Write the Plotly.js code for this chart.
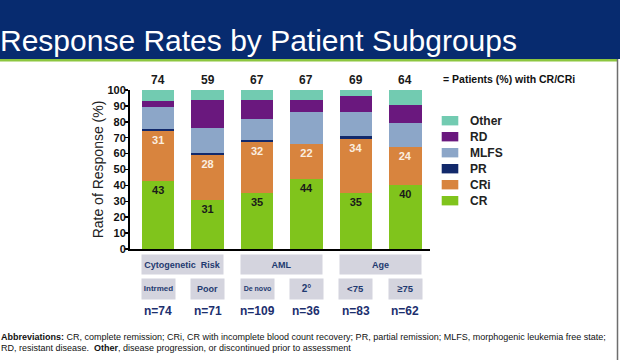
<!DOCTYPE html>
<html>
<head>
<meta charset="utf-8">
<script src="https://cdn.plot.ly/plotly-3.0.1.min.js"></script>
<style>html,body{margin:0;padding:0;background:#fff;}#chart{width:620px;height:360px;}</style>
</head>
<body>
<div id="chart"></div>
<script>
// ---- data ----
const categories = ['Intrmed', 'Poor', 'De novo', '2°', '<75', '≥75'];
const groupLabels = ['Cytogenetic  Risk', 'AML', 'Age'];
const nLabels = ['n=74', 'n=71', 'n=109', 'n=36', 'n=83', 'n=62'];
const crCriTotal = [74, 59, 67, 67, 69, 64];
const cr    = [43, 31, 35, 44, 35, 40];
const cri   = [31, 28, 32, 22, 34, 24];
const pr    = [1.5, 1.5, 1.5, 0, 2, 0];
const mlfs  = [13.5, 15.5, 13, 20, 15, 15];
const rd    = [4, 18, 12, 8, 10.5, 11.5];
const other = [7, 6, 6.5, 6, 3.5, 9.5];
const seriesNames = ['CR', 'CRi', 'PR', 'MLFS', 'RD', 'Other'];
const titleText = 'Response Rates by Patient Subgroups';
const yTitle = 'Rate of Response (%)';
const legendNote = '= Patients (%) with CR/CRi';
const footer1 = '<b>Abbreviations:</b> CR, complete remission; CRi, CR with incomplete blood count recovery; PR, partial remission; MLFS, morphogenic leukemia free state;';
const footer2 = 'RD, resistant disease.  <b>Other</b>, disease progression, or discontinued prior to assessment';

// ---- styles ----
const colors = {CR:'#80c41c', CRi:'#d8843e', PR:'#12296b', MLFS:'#8ca6c8', RD:'#6a187e', Other:'#72cbb1'};
const labelColors = {CR:'#1a1a1a', CRi:'#fbeee0'};
const values = {CR:cr, CRi:cri, PR:pr, MLFS:mlfs, RD:rd, Other:other};

const W = 620, H = 360;
const M = {l:130, r:190, t:90, b:111};
const PW = W - M.l - M.r, PH = H - M.t - M.b;
const px = v => (v - M.l) / PW;
const py = v => (H - M.b - v) / PH;

const traces = seriesNames.map(n => {
  const t = {
    type:'bar', name:n, x:categories, y:values[n],
    marker:{color:colors[n], line:{width:0}},
    showlegend:false, hoverinfo:'name+y'
  };
  if (labelColors[n]) {
    t.texttemplate = '<b>%{y}</b>';
    t.textposition = 'inside';
    t.insidetextanchor = 'end';
    t.textangle = 0;
    t.constraintext = 'none';
    t.textfont = {family:'Arial', size:11, color:labelColors[n]};
  } else {
    t.textposition = 'none';
  }
  return t;
});

const shapes = [
  {type:'rect', xref:'paper', yref:'paper', x0:px(-5), x1:px(625), y0:py(59), y1:py(-5), fillcolor:'#072b6f', line:{width:0}, layer:'below'},
  {type:'rect', xref:'paper', yref:'paper', x0:px(-5), x1:px(617), y0:py(61.5), y1:py(59), fillcolor:'#8cc63f', line:{width:0}, layer:'below'},
  {type:'line', xref:'paper', yref:'paper', x0:px(617.5), x1:px(617.5), y0:py(59), y1:py(365), line:{color:'#6e6e6e', width:1.5}, layer:'below'}
];
const annotations = [];

// top CR/CRi totals
crCriTotal.forEach((v, i) => annotations.push({
  xref:'x', yref:'y', x:i, y:100, yanchor:'bottom', yshift:1, showarrow:false,
  text:'<b>' + v + '</b>', font:{family:'Arial', size:12, color:'#1a1a1a'}
}));

// group boxes
groupLabels.forEach((g, i) => annotations.push({
  xref:'x', yref:'paper', x:2*i + 0.5, y:py(264.5), yanchor:'middle', showarrow:false,
  text:'<b>' + g + '</b>', width:81, height:19, bgcolor:'#d4d4de', borderpad:0,
  font:{family:'Arial', size:9, color:'#1f3a70'}
}));

// category boxes
const catFont = [8, 9, 7, 10, 9.5, 9.5];
categories.forEach((c, i) => annotations.push({
  xref:'x', yref:'paper', x:i, y:py(289), yanchor:'middle', showarrow:false,
  text:'<b>' + c + '</b>', width:33, height:19.5, bgcolor:'#d4d4de', borderpad:0,
  font:{family:'Arial', size:catFont[i], color:'#1f3a70'}
}));

// n labels
nLabels.forEach((n, i) => annotations.push({
  xref:'x', yref:'paper', x:i, y:py(310.7), yanchor:'middle', showarrow:false,
  text:'<b>' + n + '</b>', font:{family:'Arial', size:12, color:'#1c2f6e'}
}));

// manual legend (top to bottom: Other ... CR)
const legendOrder = seriesNames.slice().reverse();
legendOrder.forEach((n, i) => {
  const cy = 120.7 + 16 * i;
  shapes.push({type:'rect', xref:'paper', yref:'paper', x0:px(441.7), x1:px(458.3), y0:py(cy + 4.7), y1:py(cy - 4.7), fillcolor:colors[n], line:{width:0}});
  annotations.push({xref:'paper', yref:'paper', x:px(467.5), y:py(cy), xanchor:'left', yanchor:'middle', showarrow:false,
    text:'<b>' + n + '</b>', font:{family:'Arial', size:12, color:'#222'}});
});
annotations.push({xref:'paper', yref:'paper', x:px(440.5), y:py(79.3), xanchor:'left', yanchor:'middle', showarrow:false,
  text:'<b>' + legendNote + '</b>', font:{family:'Arial', size:10.5, color:'#111'}});

// footer
annotations.push({xref:'paper', yref:'paper', x:px(-1), y:py(337), xanchor:'left', yanchor:'middle', showarrow:false,
  text:footer1, font:{family:'Arial', size:9, color:'#111'}});
annotations.push({xref:'paper', yref:'paper', x:px(-1), y:py(347.5), xanchor:'left', yanchor:'middle', showarrow:false,
  text:footer2, font:{family:'Arial', size:9, color:'#111'}});

const layout = {
  width:W, height:H, autosize:false,
  margin:{l:M.l, r:M.r, t:M.t, b:M.b, pad:0},
  paper_bgcolor:'#ffffff', plot_bgcolor:'#ffffff',
  barmode:'stack', bargap:0.34,
  title:{text:titleText, font:{family:'Arial', size:30, color:'#ffffff'}, x:0, xref:'container', xanchor:'left', y:1 - 40/360, yref:'container', yanchor:'middle'},
  xaxis:{type:'category', range:[-0.57, 5.5], showline:true, linecolor:'#000', linewidth:2, showticklabels:false, ticks:'', showgrid:false, zeroline:false, fixedrange:true},
  yaxis:{range:[0, 100], dtick:10, showline:true, linecolor:'#000', linewidth:2, ticks:'outside', ticklen:3, tickwidth:1.5, tickcolor:'#000',
    ticklabelstandoff:-3,
    tickfont:{family:'Arial', size:11, color:'#111', weight:'bold'}, showgrid:false, zeroline:false, fixedrange:true,
    title:{text:yTitle, font:{family:'Arial', size:14, color:'#222'}, standoff:1}},
  shapes:shapes, annotations:annotations
};

Plotly.newPlot('chart', traces, layout, {staticPlot:true, displayModeBar:false});
</script>
</body>
</html>
